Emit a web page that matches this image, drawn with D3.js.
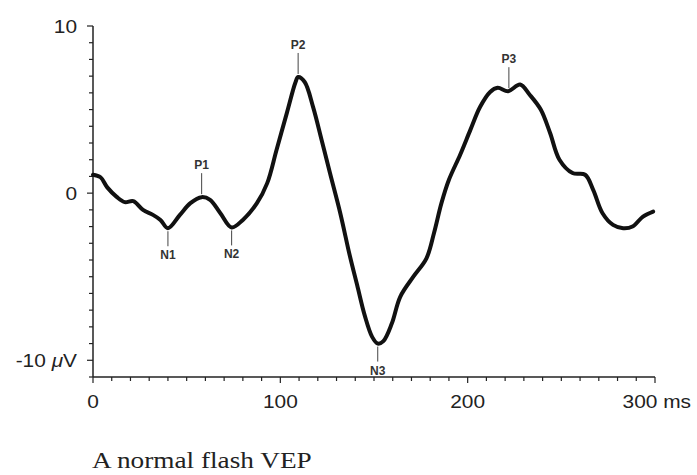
<!DOCTYPE html>
<html>
<head>
<meta charset="utf-8">
<script src="https://cdn.jsdelivr.net/npm/d3@7"></script>
<style>
  html, body { margin: 0; padding: 0; background: #fff; }
  svg { display: block; }
</style>
</head>
<body>
<svg id="chart" width="697" height="475"></svg>
<script>
// ---- data ----
const times = [0, 4, 7.5, 12.8, 17, 21.5, 26.7, 32, 36, 40, 46.4, 52, 58, 62.5, 68, 74,
  80, 87.5, 93, 98, 103.5, 108, 109.5, 113, 117.5, 122, 126.5, 132, 137, 141, 145,
  149, 152, 155, 159.5, 164, 171, 178, 182, 186, 190, 196, 201.5, 206.6, 212, 216,
  221.6, 228, 233, 239, 244, 249, 256, 262.7, 267, 272, 277.6, 283, 288, 293.6, 299];
const values = [1.1, 0.95, 0.36, -0.24, -0.54, -0.48, -1.0, -1.3, -1.6, -2.1, -1.3, -0.6,
  -0.24, -0.4, -1.2, -2.05, -1.6, -0.6, 0.6, 2.6, 4.8, 6.6, 6.95, 6.65, 5.15, 3.2, 1.2, -1.2,
  -3.7, -5.5, -7.3, -8.6, -9.0, -8.85, -7.8, -6.2, -5.0, -3.9, -2.4, -0.6, 0.8, 2.3,
  3.8, 5.15, 6.05, 6.3, 6.1, 6.5, 5.9, 5.0, 3.6, 2.0, 1.2, 1.1, 0.2, -1.2, -1.9, -2.1,
  -2.0, -1.4, -1.1];

const peakNames  = ["N1", "P1", "N2", "P2", "N3", "P3"];
const peakTimes  = [40, 58, 74, 109.5, 152, 222];
const peakValues = [-2.1, -0.24, -2.05, 6.95, -9.0, 6.1];

const xTicks = [0, 100, 200, 300];
const xTickLabels = ["0", "100", "200", "300 ms"];
const yTicks = [-10, 0, 10];
const yTickLabels = ["-10 ", "0", "10"];
const caption = "A normal flash VEP";

// ---- layout ----
const svg = d3.select("#chart");
const x = d3.scaleLinear().domain([0, 300]).range([93, 655]);
const y = d3.scaleLinear().domain([-11, 10]).range([377, 26]);
const STRETCH = 1.16;

// x axis
const xMinor = d3.range(0, 301, 10);
const gx = svg.append("g").attr("transform", `translate(0,${y(-11)})`);
gx.append("line").attr("x1", x(0)).attr("x2", x(300)).attr("stroke", "#222").attr("stroke-width", 1.5);
gx.selectAll("line.tk").data(xMinor).join("line").attr("class", "tk")
  .attr("x1", d => x(d)).attr("x2", d => x(d))
  .attr("y1", 0).attr("y2", d => d % 100 === 0 ? 6 : 4)
  .attr("stroke", "#222").attr("stroke-width", 1.2);
gx.selectAll("text").data(xTicks).join("text")
  .attr("transform", d => `translate(${x(d)},31) scale(${STRETCH},1)`)
  .attr("text-anchor", d => d === 300 ? "start" : "middle")
  .attr("x", d => d === 300 ? -28 : 0)
  .attr("font-family", "Liberation Sans, Arial, sans-serif")
  .attr("font-size", 18).attr("fill", "#222")
  .text((d, i) => xTickLabels[i]);

// y axis
const yMinor = d3.range(-11, 11, 1);
const gy = svg.append("g").attr("transform", `translate(${x(0)},0)`);
gy.append("line").attr("y1", y(10)).attr("y2", y(-11)).attr("stroke", "#222").attr("stroke-width", 1.5);
gy.selectAll("line.tk").data(yMinor).join("line").attr("class", "tk")
  .attr("y1", d => y(d)).attr("y2", d => y(d))
  .attr("x1", d => d % 10 === 0 ? -6 : -4).attr("x2", 0)
  .attr("stroke", "#222").attr("stroke-width", 1.2);
const yt = gy.selectAll("text").data(yTicks).join("text")
  .attr("transform", d => `translate(-16,${y(d) + 6.5}) scale(${STRETCH},1)`)
  .attr("text-anchor", "end")
  .attr("font-family", "Liberation Sans, Arial, sans-serif")
  .attr("font-size", 18).attr("fill", "#222");
yt.append("tspan").text((d, i) => yTickLabels[i]);
yt.filter(d => d === -10).append("tspan").attr("font-style", "italic").text("μ");
yt.filter(d => d === -10).append("tspan").text("V");

// curve
const pts = times.map((t, i) => [t, values[i]]);
const line = d3.line().x(d => x(d[0])).y(d => y(d[1])).curve(d3.curveCatmullRom.alpha(0.5));
svg.append("path").datum(pts).attr("d", line)
  .attr("fill", "none").attr("stroke", "#111").attr("stroke-width", 4)
  .attr("stroke-linejoin", "round").attr("stroke-linecap", "round");

// peak labels
const pk = svg.selectAll("g.pk").data(peakNames).join("g").attr("class", "pk");
pk.append("line")
  .attr("x1", (d, i) => x(peakTimes[i])).attr("x2", (d, i) => x(peakTimes[i]))
  .attr("y1", (d, i) => d[0] === "P" ? y(peakValues[i]) - 3 : y(peakValues[i]) + 3)
  .attr("y2", (d, i) => d[0] === "P" ? y(peakValues[i]) - 24 : y(peakValues[i]) + 18)
  .attr("stroke", "#444").attr("stroke-width", 1);
pk.append("text")
  .attr("x", (d, i) => x(peakTimes[i]))
  .attr("y", (d, i) => d[0] === "P" ? y(peakValues[i]) - 28 : y(peakValues[i]) + 31)
  .attr("text-anchor", "middle")
  .attr("font-family", "Liberation Sans, Arial, sans-serif")
  .attr("font-size", 12).attr("font-weight", "bold").attr("fill", "#333")
  .text(d => d);

// caption
svg.append("text")
  .attr("transform", `translate(92,468) scale(${STRETCH},1)`)
  .attr("font-family", "Liberation Serif, Times New Roman, serif")
  .attr("font-size", 23.5).attr("fill", "#222")
  .text(caption);
</script>
</body>
</html>
